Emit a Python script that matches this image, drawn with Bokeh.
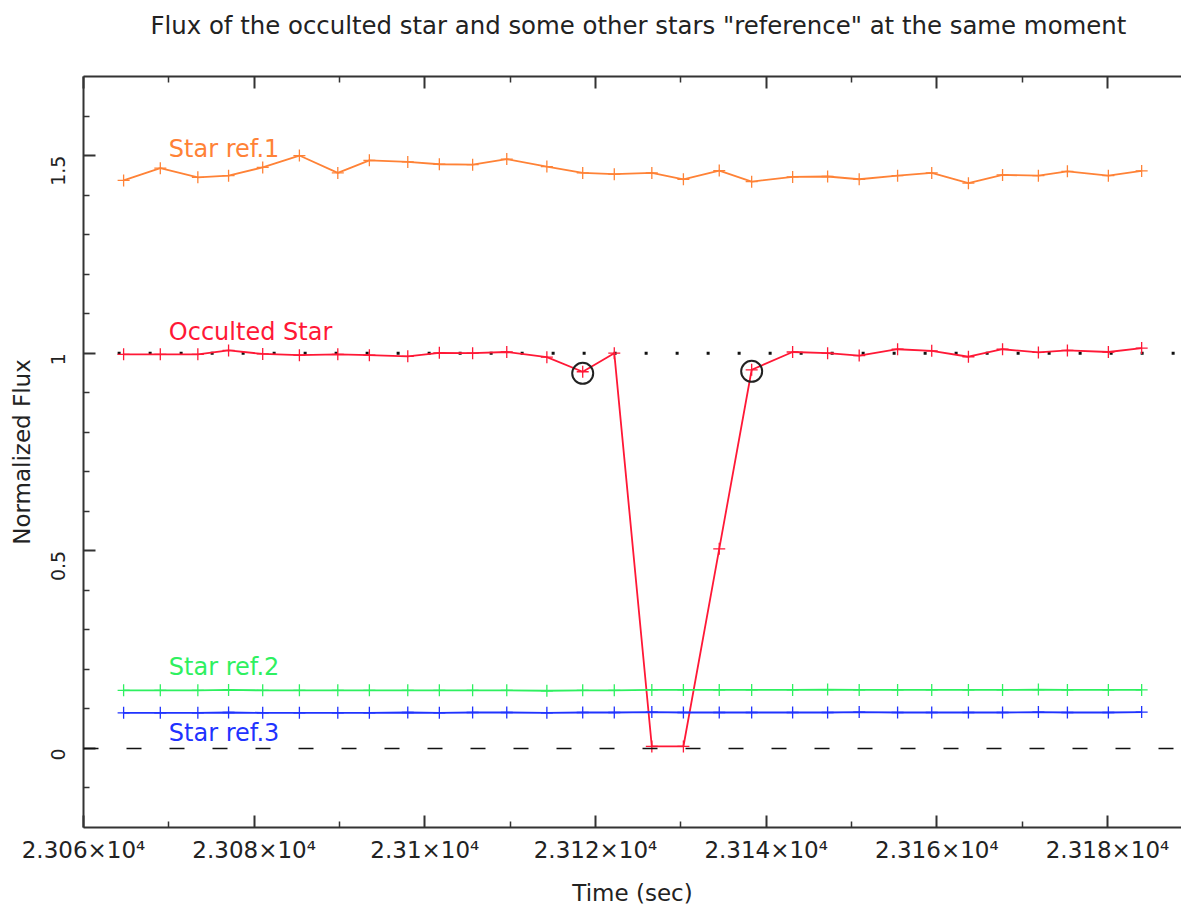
import math
from bokeh.plotting import figure
from bokeh.models import LinearAxis, FixedTicker, Span, ColumnDataSource, Title
from bokeh.core.properties import value
from bokeh.embed import file_html
from bokeh.resources import INLINE

# Sample times (s) and normalized fluxes
time_s = [23064.7, 23069.0, 23073.4, 23077.0, 23081.0, 23085.3, 23089.8, 23093.5,
          23098.0, 23101.7, 23105.6, 23109.6, 23114.3, 23118.5, 23122.2, 23126.6,
          23130.3, 23134.5, 23138.3, 23143.1, 23147.2, 23150.9, 23155.4, 23159.4,
          23163.7, 23167.7, 23171.9, 23175.3, 23180.1, 23184.0]

occulted_flux = [0.997, 0.997, 0.997, 1.007, 0.998, 0.995, 0.997, 0.995,
                 0.992, 1.001, 1.000, 1.003, 0.990, 0.953, 1.000, 0.005,
                 0.005, 0.505, 0.958, 1.003, 1.000, 0.994, 1.010, 1.006,
                 0.991, 1.010, 1.002, 1.007, 1.003, 1.013]

ref1_flux = [1.437, 1.468, 1.445, 1.449, 1.470, 1.500, 1.456, 1.488,
             1.484, 1.478, 1.477, 1.491, 1.472, 1.456, 1.453, 1.456,
             1.440, 1.462, 1.434, 1.446, 1.447, 1.440, 1.449, 1.456,
             1.430, 1.451, 1.449, 1.460, 1.449, 1.461]

ref2_flux = [0.147, 0.147, 0.147, 0.148, 0.147, 0.147, 0.147, 0.147,
             0.147, 0.147, 0.147, 0.147, 0.146, 0.147, 0.147, 0.148,
             0.148, 0.148, 0.148, 0.148, 0.149, 0.148, 0.148, 0.148,
             0.148, 0.148, 0.149, 0.148, 0.148, 0.148]

ref3_flux = [0.090, 0.090, 0.090, 0.091, 0.090, 0.090, 0.090, 0.090,
             0.091, 0.090, 0.091, 0.091, 0.090, 0.091, 0.091, 0.092,
             0.091, 0.091, 0.091, 0.091, 0.091, 0.092, 0.091, 0.091,
             0.091, 0.091, 0.092, 0.091, 0.091, 0.092]

# Points flagged around the occultation edges (indices into time_s)
flagged_idx = [13, 18]

series_names = ["Star ref.1", "Occulted Star", "Star ref.2", "Star ref.3"]
series_colors = ["#FF8236", "#FF1836", "#2EF060", "#1F33FF"]

x_ticks = [23060, 23080, 23100, 23120, 23140, 23160, 23180]
x_tick_labels = ["2.306×10⁴", "2.308×10⁴", "2.31×10⁴", "2.312×10⁴",
                 "2.314×10⁴", "2.316×10⁴", "2.318×10⁴"]
x_minor_ticks = [23070, 23090, 23110, 23130, 23150, 23170, 23190]
y_ticks = [0, 0.5, 1, 1.5]
y_tick_labels = ["0", "0.5", "1", "1.5"]
y_minor_ticks = [-0.1, 0.1, 0.2, 0.3, 0.4, 0.6, 0.7, 0.8, 0.9,
                 1.1, 1.2, 1.3, 1.4, 1.6]

TITLE = 'Flux of the occulted star and some other stars "reference" at the same moment'
FONT = "DejaVu Sans"
INK = "#222222"

p = figure(width=1181, height=908,
           x_range=(23060, 23188.67), y_range=(-0.2, 1.7),
           output_backend="svg", toolbar_location=None,
           min_border_left=83, min_border_right=0,
           min_border_top=76, min_border_bottom=81,
           x_axis_location=None, y_axis_location=None)
p.grid.visible = False
p.outline_line_color = None
p.background_fill_color = "white"
p.border_fill_color = "white"

p.title.text = TITLE
p.title.text_font = FONT
p.title.text_font_size = "24.4px"
p.title.text_font_style = "normal"
p.title.text_color = INK
p.title.align = "left"
p.title.offset = 67
p.title.standoff = 10

xt = FixedTicker(ticks=x_ticks, minor_ticks=x_minor_ticks)
yt = FixedTicker(ticks=y_ticks, minor_ticks=y_minor_ticks)


def style_axis(ax):
    ax.axis_line_color = "#333333"
    ax.axis_line_width = 2
    ax.major_tick_line_color = "#333333"
    ax.minor_tick_line_color = "#333333"
    ax.major_tick_line_width = 2
    ax.minor_tick_line_width = 1.5
    ax.major_tick_out = 0
    ax.minor_tick_out = 0
    ax.major_tick_in = 12
    ax.minor_tick_in = 6
    ax.major_label_text_font = FONT
    ax.major_label_text_font_size = "19px"
    ax.major_label_text_color = INK
    ax.axis_label_text_font = FONT
    ax.axis_label_text_font_size = "23px"
    ax.axis_label_text_font_style = "normal"
    ax.axis_label_text_color = INK


xb = LinearAxis(ticker=xt, axis_label="Time (sec)")
style_axis(xb)
xb.major_label_overrides = dict(zip(x_ticks, x_tick_labels))
xb.major_label_text_font_size = "23px"
xb.major_label_standoff = 9
xb.axis_label_standoff = 14
p.add_layout(xb, "below")

xa = LinearAxis(ticker=xt)
style_axis(xa)
xa.major_label_text_font_size = "0px"
xa.major_label_text_alpha = 0
p.add_layout(xa, "above")

# blank band that lifts the heading clear of the top axis
p.add_layout(Title(text=" ", text_font_size="18px", standoff=10), "above")

yl = LinearAxis(ticker=yt, axis_label="Normalized Flux")
style_axis(yl)
yl.major_label_overrides = dict(zip(y_ticks, y_tick_labels))
yl.major_label_orientation = math.pi / 2
yl.major_label_standoff = 25
yl.axis_label_standoff = 7
p.add_layout(yl, "left")

# Reference levels: zero flux (dashed) and unocculted level (dotted)
p.add_layout(Span(location=0, dimension="width", line_color="#111111",
                  line_width=1.6, line_dash="15 28"))
p.line([23064.0, 23190.0], [1, 1], line_color="#111111", line_width=3,
       line_dash="3 28")

series = [ref1_flux, occulted_flux, ref2_flux, ref3_flux]
for flux, color in zip(series, series_colors):
    src = ColumnDataSource(dict(t=time_s, f=flux))
    p.line("t", "f", source=src, line_color=color, line_width=1.8)
    p.scatter("t", "f", source=src, marker="cross", size=12,
              line_color=color, line_width=1.3)

p.scatter([time_s[i] for i in flagged_idx],
          [occulted_flux[i] - 0.004 for i in flagged_idx],
          marker="circle", size=21, fill_color=None,
          line_color="#222222", line_width=2)

# Series names
label_t = [23070.0, 23070.0, 23070.0, 23070.0]
label_y = [1.517, 1.054, 0.206, 0.039]
for name, color, tx, ty in zip(series_names, series_colors, label_t, label_y):
    p.text(x=[tx], y=[ty], text=[name], text_color=color,
           text_font=value(FONT), text_font_size="24px",
           text_baseline="middle", text_align="left")

open("out.html", "w").write(file_html(p, INLINE))
